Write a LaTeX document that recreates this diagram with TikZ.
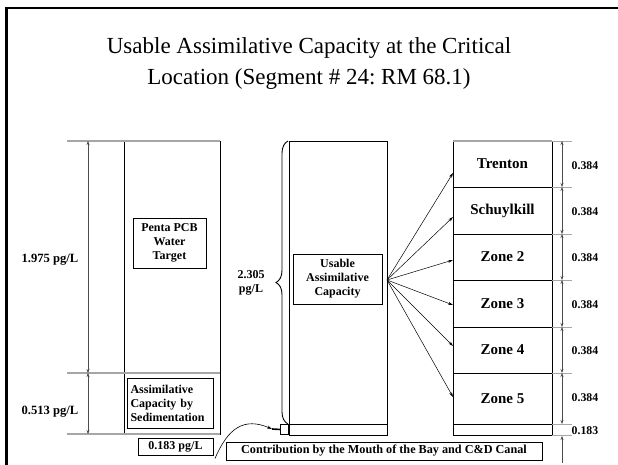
\documentclass[tikz,border=0pt]{standalone}
\usepackage{fontspec}
\setmainfont{Liberation Serif}
\usetikzlibrary{arrows.meta,decorations.pathreplacing}
\frenchspacing
\begin{document}
\begin{tikzpicture}[x=1pt,y=-1pt,
  box/.style={draw, rectangle, inner sep=0pt, outer sep=0pt, line width=0.8pt},
  lbl/.style={font=\bfseries\fontsize{12}{14}\selectfont, align=center, inner sep=0pt},
  zone/.style={box, minimum width=99pt, font=\bfseries\fontsize{15}{17}\selectfont},
  ext/.style={draw=gray!70, line width=1.1pt},
  dim/.style={draw=gray!60!black, line width=0.6pt, {Stealth[length=4pt,width=3pt,fill=black]}-{Stealth[length=4pt,width=3pt,fill=black]}},
  fanarrow/.style={draw, line width=0.5pt, -{Stealth[length=5pt,width=3pt]}}]
\useasboundingbox (0,0) rectangle (618,465);
% frame
\draw[line width=2.6pt] (6.5,470) -- (6.5,8) -- (625,8);
% title
\node[font=\fontsize{23}{31}\selectfont, align=center] (title) at (309,64) {Usable Assimilative Capacity at the Critical\\Location (Segment \# 24: RM 68.1)};

% ---------- left column ----------
\node[box, minimum width=96pt, minimum height=293pt] (lcol) at (172,287.5) {};
\draw[ext] (67,141) -- (lcol.north east);
\draw[ext] (67,373) -- (220,373);
\draw[ext] (67,434) -- (lcol.south east);
\coordinate (la) at (88,141);
\coordinate (lb) at (88,373);
\coordinate (lc) at (88,434);
\draw[dim] (la) -- (lb);
\draw[dim] (lb) -- (lc);
\node[lbl, font=\bfseries\fontsize{12.6}{14}\selectfont] (l1975) at (50,260) {1.975 pg/L};
\node[lbl, font=\bfseries\fontsize{12.6}{14}\selectfont] (l513) at (50,412) {0.513 pg/L};
\node[box, minimum width=73pt, minimum height=50pt, lbl] (penta) at (169.5,243) {Penta PCB\\Water\\Target};
\node[box, minimum width=86pt, minimum height=50pt, lbl, align=left, text width=80pt] (sed) at (170.5,403) {Assimilative\\Capacity by\\Sedimentation};
\node[box, minimum width=75pt, minimum height=17pt, lbl] (c183) at (175.5,446.5) {0.183 pg/L};

% ---------- middle column ----------
\node[box, minimum width=98pt, minimum height=294pt] (mcol) at (338,288) {};
\draw[line width=0.8pt] (289,424) -- (387,424);
\node[box, minimum width=8pt, minimum height=10pt] (stub) at (284.5,429.5) {};
\node[box, minimum width=89pt, minimum height=50pt, lbl] (usable) at (337.5,279) {Usable\\Assimilative\\Capacity};
\draw[decorate, decoration={brace, amplitude=12pt, aspect=0.5}, line width=0.9pt] (288,424) -- (288,141);
\node[lbl, align=center] (l2305) at (251,283) {2.305\\pg/L};
\draw[line width=0.6pt, -{Stealth[length=5pt,width=3pt]}] (c183.east) ++(2,12) .. controls (228,428) and (244,417) .. (272,429);
\draw[line width=1.6pt] (272,429) -- (stub.west);
\node[box, minimum width=316pt, minimum height=18pt, font=\bfseries\fontsize{12.2}{14}\selectfont] (contrib) at (384,451) {Contribution by the Mouth of the Bay and C\&D Canal};

% ---------- right column ----------
\node[zone, minimum height=46pt] (r1) at (502.5,164) {Trenton};
\node[zone, minimum height=47pt] (r2) at (502.5,210.5) {Schuylkill};
\node[zone, minimum height=46pt] (r3) at (502.5,257) {Zone 2};
\node[zone, minimum height=47pt] (r4) at (502.5,303.5) {Zone 3};
\node[zone, minimum height=46pt] (r5) at (502.5,350) {Zone 4};
\node[zone, minimum height=51pt] (r6) at (502.5,398.5) {Zone 5};
\node[box, minimum width=99pt, minimum height=11pt] (r7) at (502.5,429.5) {};

\coordinate (fan) at (387,280);
\draw[fanarrow] (fan) -- ([yshift=-9pt]r1.west);
\draw[fanarrow] (fan) -- ([yshift=-6.5pt]r2.west);
\draw[fanarrow] (fan) -- ([yshift=-3pt]r3.west);
\draw[fanarrow] (fan) -- ([yshift=-1.5pt]r4.west);
\draw[fanarrow] (fan) -- ([yshift=4pt]r5.west);
\draw[fanarrow] (fan) -- ([yshift=1.5pt]r6.west);

\foreach \yy in {141,187,234,280,327,373,424,435} {\draw[ext, line width=0.9pt] (552,\yy) -- (572,\yy);}
\draw[ext] (453,141) -- (552,141);
\coordinate (d0) at (562,141);
\coordinate (d1) at (562,187);
\coordinate (d2) at (562,234);
\coordinate (d3) at (562,280);
\coordinate (d4) at (562,327);
\coordinate (d5) at (562,373);
\coordinate (d6) at (562,424);
\coordinate (d7) at (562,436);
\coordinate (d8) at (562,463);
\draw[dim] (d0) -- (d1);
\draw[dim] (d1) -- (d2);
\draw[dim] (d2) -- (d3);
\draw[dim] (d3) -- (d4);
\draw[dim] (d4) -- (d5);
\draw[dim] (d5) -- (d6);
\draw[draw=gray!60!black, line width=0.6pt, -{Stealth[length=4pt,width=3pt,fill=black]}] (d8) -- (d7);
\node[lbl, font=\bfseries\fontsize{11.8}{14}\selectfont] (v1) at (585,166) {0.384};
\node[lbl, font=\bfseries\fontsize{11.8}{14}\selectfont] (v2) at (585,212) {0.384};
\node[lbl, font=\bfseries\fontsize{11.8}{14}\selectfont] (v3) at (585,258) {0.384};
\node[lbl, font=\bfseries\fontsize{11.8}{14}\selectfont] (v4) at (585,305) {0.384};
\node[lbl, font=\bfseries\fontsize{11.8}{14}\selectfont] (v5) at (585,351) {0.384};
\node[lbl, font=\bfseries\fontsize{11.8}{14}\selectfont] (v6) at (585,398) {0.384};
\node[lbl, font=\bfseries\fontsize{11.8}{14}\selectfont] (v7) at (585,431) {0.183};
\end{tikzpicture}
\end{document}
